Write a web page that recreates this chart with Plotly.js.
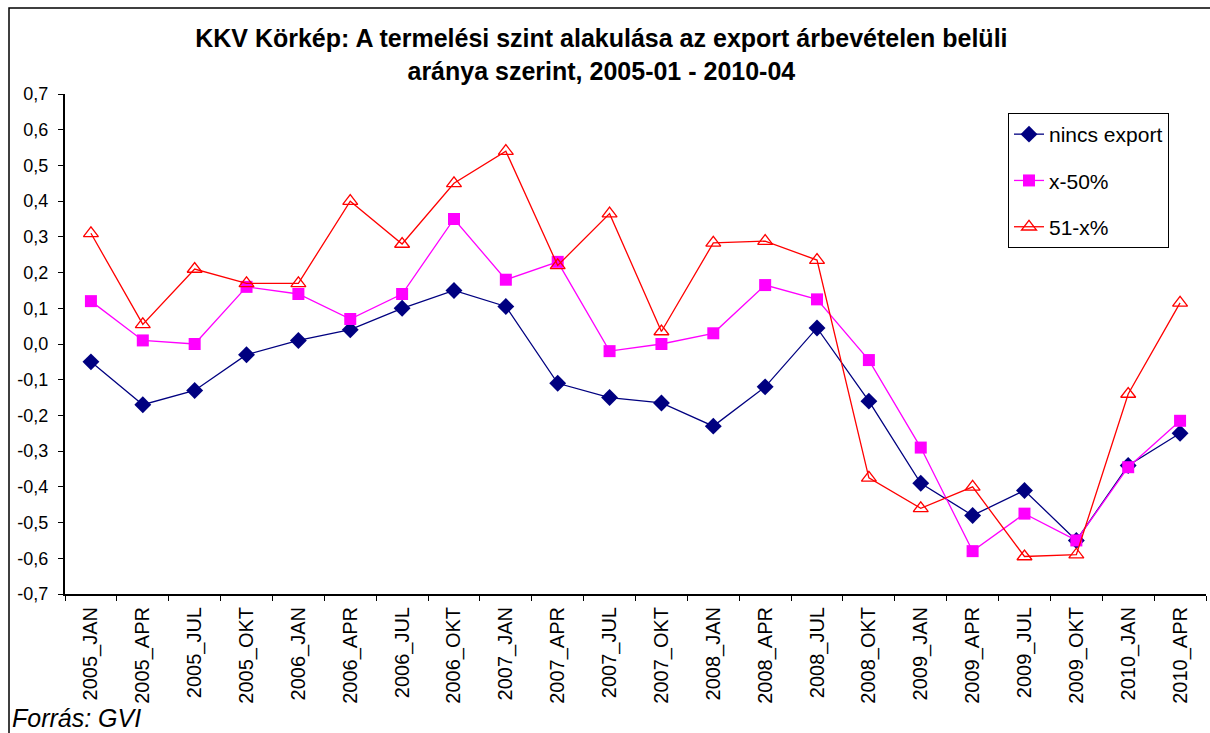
<!DOCTYPE html>
<html>
<head>
<meta charset="utf-8">
<script src="https://cdn.plot.ly/plotly-3.0.1.min.js"></script>
<style>
  html, body { margin: 0; padding: 0; background: #fff; }
  #chart { width: 1210px; height: 733px; }
</style>
</head>
<body>
<div id="chart"></div>
<script>
const categories = ["2005_JAN","2005_APR","2005_JUL","2005_OKT","2006_JAN","2006_APR","2006_JUL","2006_OKT",
  "2007_JAN","2007_APR","2007_JUL","2007_OKT","2008_JAN","2008_APR","2008_JUL","2008_OKT",
  "2009_JAN","2009_APR","2009_JUL","2009_OKT","2010_JAN","2010_APR"];

const nincsExport = [-0.05,-0.17,-0.13,-0.03,0.01,0.04,0.10,0.15,0.105,-0.11,-0.15,-0.165,
  -0.23,-0.12,0.045,-0.16,-0.39,-0.48,-0.41,-0.55,-0.34,-0.25];
const x50 = [0.12,0.01,0.0,0.16,0.14,0.07,0.14,0.35,0.18,0.23,-0.02,0.0,
  0.03,0.165,0.125,-0.045,-0.29,-0.58,-0.475,-0.55,-0.345,-0.215];
const x51 = [0.31,0.055,0.21,0.17,0.17,0.40,0.28,0.45,0.54,0.22,0.365,0.035,
  0.283,0.288,0.235,-0.375,-0.46,-0.40,-0.595,-0.59,-0.14,0.115];

const seriesNames = ["nincs export","x-50%","51-x%"];
const yTickVals = [-0.7,-0.6,-0.5,-0.4,-0.3,-0.2,-0.1,0,0.1,0.2,0.3,0.4,0.5,0.6,0.7];
const yTickText = ["-0,7","-0,6","-0,5","-0,4","-0,3","-0,2","-0,1","0,0","0,1","0,2","0,3","0,4","0,5","0,6","0,7"];

const FONT = "Liberation Sans, Arial, sans-serif";

const traces = [
  { x: categories, y: nincsExport, name: seriesNames[0], type: "scatter", mode: "lines+markers",
    legendgroup: "a",
    line: { color: "#000080", width: 1.3 },
    marker: { symbol: "diamond", size: 13, color: "#000080" } },
  { x: categories, y: x50, name: seriesNames[1], type: "scatter", mode: "lines+markers",
    legendgroup: "b",
    line: { color: "#FF00FF", width: 1.3 },
    marker: { symbol: "square", size: 12, color: "#FF00FF" } },
  { x: categories, y: x51, name: seriesNames[2], type: "scatter", mode: "lines+markers",
    legendgroup: "c",
    line: { color: "#FF0000", width: 1.3 },
    marker: { symbol: "triangle-up-open", size: 13, color: "#FF0000", line: { width: 1.3, color: "#FF0000" } } }
];

const L = 65, R = 1206, T = 94, B = 594;
const W = R - L, H = B - T;
const px = v => (v - L) / W;
const py = v => (B - v) / H;

const layout = {
  width: 1210, height: 733,
  margin: { l: L, r: 1210 - R, t: T, b: 733 - B },
  paper_bgcolor: "#fff", plot_bgcolor: "#fff",
  font: { family: FONT, color: "#000", size: 18 },
  title: {
    text: "<b>KKV Körkép: A termelési szint alakulása az export árbevételen belüli<br>aránya szerint, 2005-01 - 2010-04</b>",
    font: { family: FONT, size: 25, color: "#000" },
    x: 0.497, xref: "container", xanchor: "center",
    y: 1 - 47 / 733, yref: "container", yanchor: "top"
  },
  xaxis: {
    type: "category",
    range: [-0.5, categories.length - 0.5],
    showgrid: false, zeroline: false,
    showline: true, linecolor: "#000", linewidth: 2,
    ticks: "outside", ticklen: 5, tickcolor: "#000", tickwidth: 1,
    tickson: "boundaries",
    tickangle: -90,
    ticklabelstandoff: 3,
    tickfont: { family: FONT, size: 20, color: "#000" }
  },
  yaxis: {
    range: [-0.7, 0.7],
    tickvals: yTickVals, ticktext: yTickText,
    showgrid: false, zeroline: false,
    showline: true, linecolor: "#000", linewidth: 2,
    ticks: "outside", ticklen: 5, tickcolor: "#000", tickwidth: 1,
    ticklabelstandoff: 6,
    tickfont: { family: FONT, size: 18, color: "#000" }
  },
  showlegend: true,
  legend: {
    x: px(1008), y: py(113), xanchor: "left", yanchor: "top",
    bordercolor: "#000", borderwidth: 1, bgcolor: "#fff",
    font: { family: FONT, size: 21, color: "#000" },
    traceorder: "grouped", tracegroupgap: 16,
    itemwidth: 30
  },
  shapes: [
    { type: "rect", xref: "paper", yref: "paper",
      x0: px(9), x1: px(1220), y0: py(745), y1: py(8),
      line: { color: "#000", width: 1.5 }, fillcolor: "rgba(0,0,0,0)", layer: "below" }
  ],
  annotations: [
    { text: "<i>Forrás: GVI</i>", xref: "paper", yref: "paper",
      x: px(10), y: py(718), xanchor: "left", yanchor: "middle", showarrow: false,
      font: { family: FONT, size: 25, color: "#000" } }
  ]
};

Plotly.newPlot("chart", traces, layout, { displayModeBar: false, staticPlot: true });
</script>
</body>
</html>
